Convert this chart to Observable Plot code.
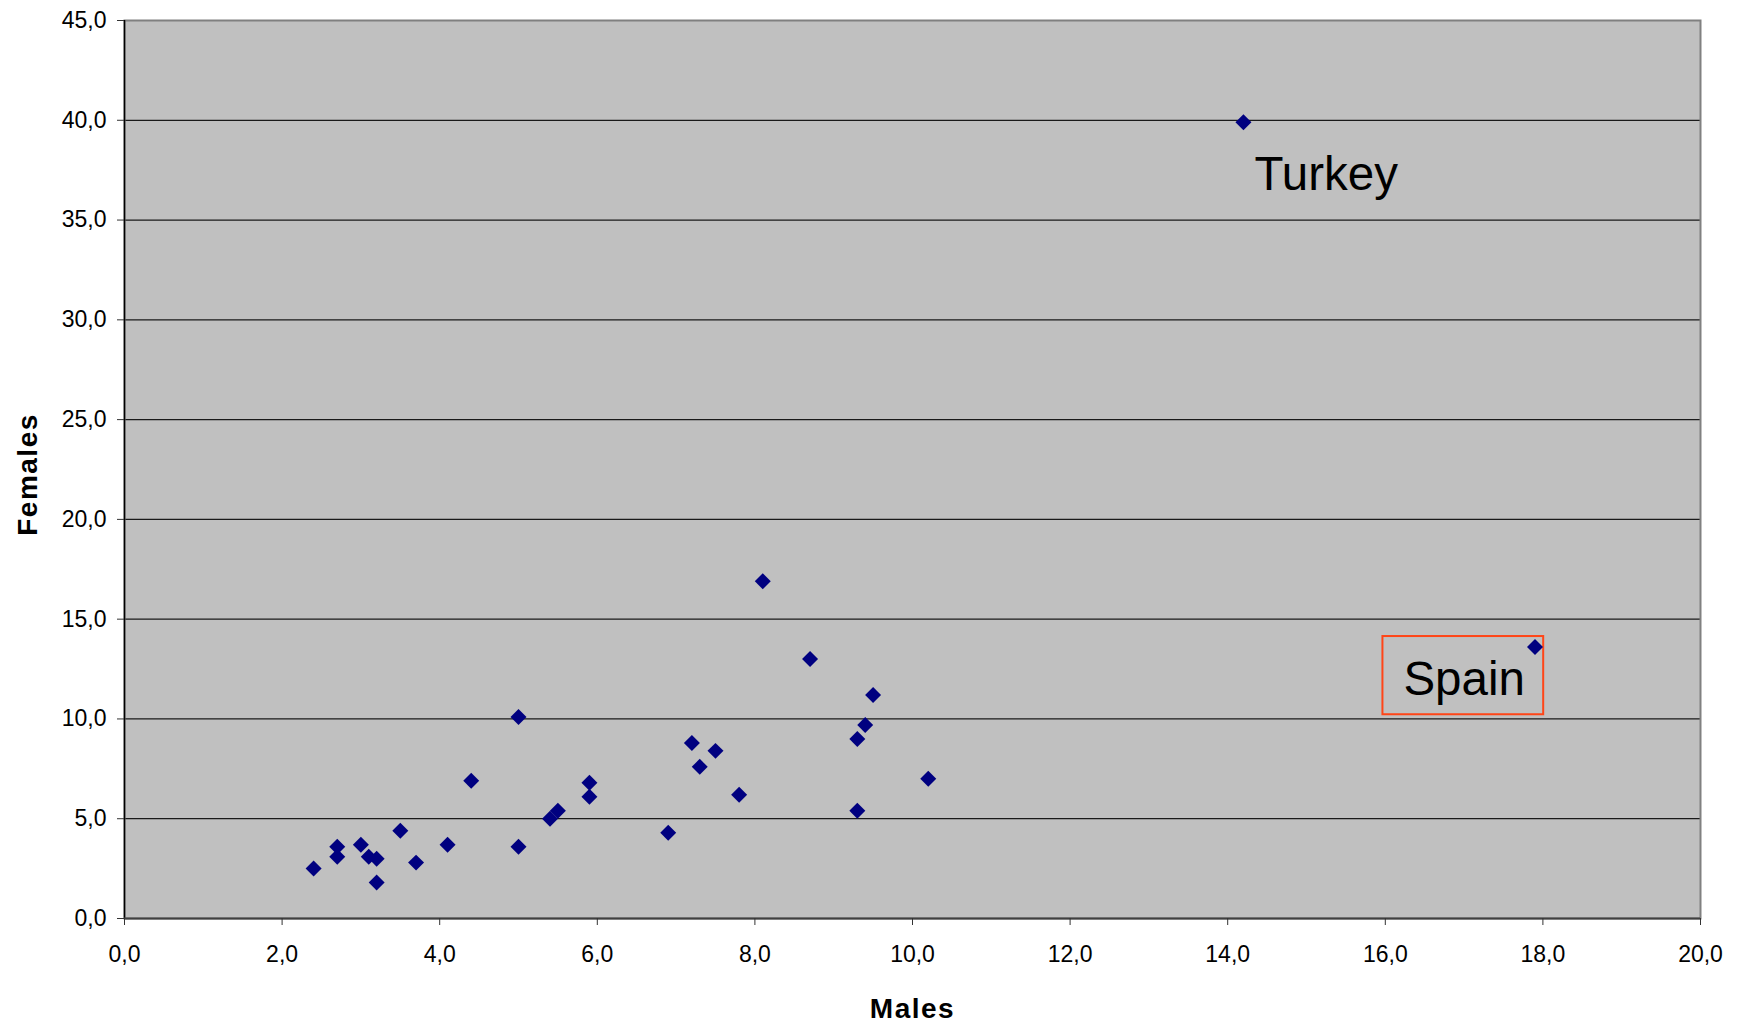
<!DOCTYPE html>
<html>
<head>
<meta charset="utf-8">
<script src="https://cdn.jsdelivr.net/npm/d3@7"></script>
<script src="https://cdn.jsdelivr.net/npm/@observablehq/plot@0.6"></script>
<style>
  html, body { margin: 0; padding: 0; background: #fff; }
</style>
</head>
<body>
<div id="chart"></div>
<script>
// Males (x) and Females (y) values, one per country
const males   = [2.4, 2.7, 2.7, 3.0, 3.1, 3.2, 3.2, 3.5, 3.7, 4.1, 4.4, 5.0, 5.0, 5.4, 5.5, 5.9, 5.9, 6.9, 7.2, 7.3, 7.5, 7.8, 8.1, 8.7, 9.3, 9.4, 9.5, 9.3, 10.2, 14.2, 17.9];
const females = [2.5, 3.6, 3.1, 3.7, 3.1, 3.0, 1.8, 4.4, 2.8, 3.7, 6.9, 10.1, 3.6, 5.0, 5.4, 6.8, 6.1, 4.3, 8.8, 7.6, 8.4, 6.2, 16.9, 13.0, 9.0, 9.7, 11.2, 5.4, 7.0, 39.9, 13.6];

const xTicks = [0, 2, 4, 6, 8, 10, 12, 14, 16, 18, 20];
const yTicks = [0, 5, 10, 15, 20, 25, 30, 35, 40, 45];

// annotation labels (data coordinates)
const labelNames = ["Turkey", "Spain"];
const labelX     = [14.34, 16.23];
const labelY     = [36.5, 11.2];
// box around "Spain"
const boxX1 = [15.97], boxX2 = [18.01], boxY1 = [10.21], boxY2 = [14.13];

const points = males.map((m, i) => ({x: m, y: females[i]}));
const labels = labelNames.map((t, i) => ({t, x: labelX[i], y: labelY[i]}));
const boxes = boxX1.map((v, i) => ({x1: v, x2: boxX2[i], y1: boxY1[i], y2: boxY2[i]}));

const fmt = d => d.toFixed(1).replace(".", ",");

const chart = Plot.plot({
  width: 1746,
  height: 1023,
  marginLeft: 124,
  marginRight: 46,
  marginTop: 20,
  marginBottom: 105,
  style: {fontFamily: "'Liberation Sans', Arial, sans-serif", background: "#fff", color: "#000"},
  x: {domain: [0, 20]},
  y: {domain: [0, 45]},
  marks: [
    Plot.frame({fill: "#c0c0c0", stroke: null}),
    Plot.ruleY(yTicks.filter(d => d > 0 && d < 45), {stroke: "#1a1a1a", strokeWidth: 1.3}),
    Plot.frame({stroke: "#808080", strokeWidth: 2}),
    Plot.ruleX([0], {stroke: "#000", strokeWidth: 1.5}),
    Plot.ruleY([0], {stroke: "#404040", strokeWidth: 2}),
    Plot.axisX({ticks: xTicks, tickFormat: fmt, tickSize: 7, tickPadding: 20, fontSize: 23, label: null, stroke: "#333"}),
    Plot.axisY({ticks: yTicks, tickFormat: fmt, tickSize: 7, tickPadding: 11, fontSize: 23, label: null, stroke: "#333"}),
    Plot.rect(boxes, {x1: "x1", x2: "x2", y1: "y1", y2: "y2", fill: "none", stroke: "#ff4517", strokeWidth: 2}),
    Plot.dot(points, {x: "x", y: "y", symbol: "diamond2", r: 7.2, fill: "#000080", stroke: "none"}),
    Plot.text(labels, {x: "x", y: "y", text: "t", textAnchor: "start", lineAnchor: "bottom", fontSize: 47.5, fill: "#000"}),
    Plot.text(["Males"], {frameAnchor: "bottom", textAnchor: "middle", dy: 99, lineAnchor: "bottom", fontWeight: "bold", fontSize: 28, fill: "#000"}),
    Plot.text(["Females"], {frameAnchor: "left", textAnchor: "middle", dx: -88, dy: 5, rotate: -90, lineAnchor: "bottom", fontWeight: "bold", fontSize: 28, fill: "#000"})
  ]
});

d3.select(chart).selectAll("text").filter(function() {
  const t = this.textContent;
  return t === "Males" || t === "Females";
}).attr("letter-spacing", "1.5");

document.getElementById("chart").appendChild(chart);
</script>
</body>
</html>
